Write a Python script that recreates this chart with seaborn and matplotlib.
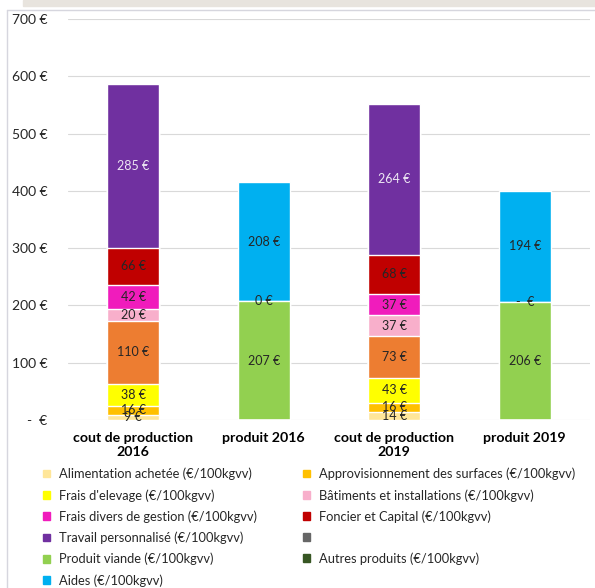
import matplotlib.pyplot as plt
import matplotlib.patches as mpatches
import matplotlib.lines as mlines
import pandas as pd
import seaborn as sns

sns.set_style("white")
plt.rcParams['font.family'] = ['Lato', 'DejaVu Sans']

categories = ["cout de production\n2016", "produit 2016", "cout de production\n2019", "produit 2019"]

# series in stacking order (bottom -> top); None = not in that bar
series = [
    "Alimentation achetée (€/100kgvv)",
    "Approvisionnement des surfaces (€/100kgvv)",
    "Frais d'elevage (€/100kgvv)",
    "Mécanisation",
    "Bâtiments et installations (€/100kgvv)",
    "Frais divers de gestion (€/100kgvv)",
    "Foncier et Capital (€/100kgvv)",
    "Travail personnalisé (€/100kgvv)",
    "Produit viande (€/100kgvv)",
    "Autres produits (€/100kgvv)",
    "Aides (€/100kgvv)",
]
alimentation = [9, None, 14, None]
approvisionnement = [16, None, 16, None]
frais_elevage = [38, None, 43, None]
mecanisation = [110, None, 73, None]
batiments = [20, None, 37, None]
frais_divers = [42, None, 37, None]
foncier = [66, None, 68, None]
travail = [285, None, 264, None]
produit_viande = [None, 207, None, 206]
autres_produits = [None, 0.3, None, 0]
aides = [None, 208, None, 194]

values = [alimentation, approvisionnement, frais_elevage, mecanisation, batiments,
          frais_divers, foncier, travail, produit_viande, autres_produits, aides]
colors = ["#FFE699", "#FFC000", "#FFFF00", "#ED7D31", "#F8AFCB", "#F01CBC",
          "#C00000", "#7030A0", "#92D050", "#375623", "#00B0F0"]

yticks = [0, 100, 200, 300, 400, 500, 600, 700]


def euro(v):
    return "-  €" if v == 0 else f"{v:.0f} €"


df = pd.DataFrame({s: [0 if v is None else v for v in vals] for s, vals in zip(series, values)},
                  index=categories)
cum = df.cumsum(axis=1)

fig = plt.figure(figsize=(5.95, 5.88), dpi=100)
ax = fig.add_axes([68 / 595, 1 - 420 / 588, 522 / 595, 401 / 588])

# overlapping cumulative bars, top series first
for s, c in reversed(list(zip(series, colors))):
    sns.barplot(x=categories, y=cum[s].values, order=categories, color=c,
                saturation=1, width=0.4, ax=ax, zorder=3)

# value labels
for s, vals in zip(series, values):
    for i, v in enumerate(vals):
        if v is None:
            continue
        mid = cum.loc[categories[i], s] - v / 2
        col = "#EDE7F3" if s.startswith("Travail") else "#262626"
        ax.text(i, mid, euro(v), ha="center", va="center", fontsize=9,
                color=col, zorder=5)

ax.set_ylim(0, 700)
ax.set_xlim(-0.5, 3.5)
ax.set_yticks(yticks)
ax.set_yticklabels([euro(t) for t in yticks], fontsize=10, color="#262626")
ax.tick_params(axis="y", length=0, pad=15)
ax.tick_params(axis="x", length=0, pad=9)
for lab in ax.get_xticklabels():
    lab.set_fontweight("bold")
    lab.set_fontsize(10.2)
    lab.set_color("black")
ax.set_xlabel("")
ax.set_ylabel("")
ax.grid(axis="y", color="#D9D9D9", linewidth=0.8, zorder=0)
for sp in ax.spines.values():
    sp.set_visible(False)

# legend (row-major order in 2 columns -> column-major for matplotlib)
legend_items = [(series[i], colors[i]) for i in [0, 2, 5, 7, 8, 10]]
legend_items += [(series[i], colors[i]) for i in [1, 4, 6]]
legend_items += [("", "#666666"), (series[9], colors[9])]
handles = [mpatches.Patch(color=c) for _, c in legend_items]
labels = [l for l, _ in legend_items]
fig.legend(handles, labels, ncol=2, loc="upper left",
           bbox_to_anchor=(31 / 595, 1 - 456 / 588), frameon=False,
           fontsize=9.3, handlelength=0.55, handleheight=0.55,
           handletextpad=0.7, labelspacing=0.68, columnspacing=3.6,
           labelcolor="#262626")

# screenshot frame
fig.patches.append(mpatches.Rectangle((23 / 595, 1 - 6 / 588), 1, 6 / 588,
                                      transform=fig.transFigure, color="#E8E4DE"))
fig.lines.append(mlines.Line2D([7 / 595, 1], [1 - 10 / 588, 1 - 10 / 588],
                               transform=fig.transFigure, color="#D6D6DE", lw=1))
fig.lines.append(mlines.Line2D([7 / 595, 7 / 595], [0, 1 - 10 / 588],
                               transform=fig.transFigure, color="#D6D6DE", lw=1))

fig.savefig("out.png", dpi=100)
